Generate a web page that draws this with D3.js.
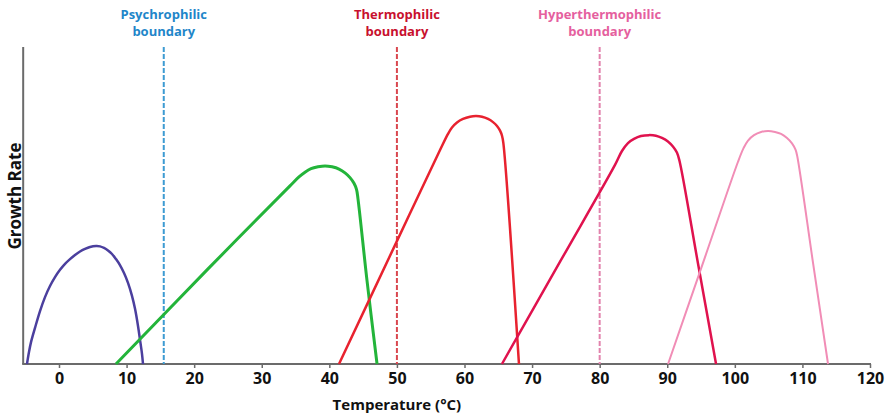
<!DOCTYPE html>
<html>
<head>
<meta charset="utf-8">
<script src="https://cdn.jsdelivr.net/npm/d3@7"></script>
<style>
  body { margin: 0; background: #fff; }
  text { font-family: "Open Sans", sans-serif; font-weight: 700; }
</style>
</head>
<body>
<svg width="892" height="417"></svg>
<script>
// curves: [temperature (°C), growth rate (0-100 of plot height)]
var psychrophile = [[-4.74,0],[-4.44,3.8],[-4.14,6.9],[-3.55,11.4],[-2.81,16.7],[-2.07,21.1],[-1.33,24.6],[-0.59,27.4],[0.15,29.7],[0.89,31.6],[1.63,33.1],[2.37,34.4],[3.11,35.5],[3.85,36.3],[4.59,36.9],[5.48,37.2],[6.07,37.1],[6.66,36.6],[7.25,35.8],[7.84,34.7],[8.43,33.1],[9.02,31.2],[9.62,28.7],[10.21,25.6],[10.8,21.5],[11.25,17.4],[11.69,12.0],[11.99,7.6],[12.28,3.2],[12.43,0]];
var mesophile = [[8.43,0],[22.05,30.0],[34.18,56.2],[35.51,59.0],[36.4,60.5],[37.29,61.6],[38.32,62.2],[39.36,62.5],[40.4,62.2],[41.43,61.5],[42.32,60.3],[43.06,58.8],[43.65,57.0],[44.02,55.1],[44.24,52.1],[45.58,26.2],[47.06,0]];
var thermophile = [[41.43,0],[49.72,37.5],[56.38,67.5],[57.56,72.6],[58.15,74.6],[58.89,76.2],[59.78,77.3],[60.81,78.0],[61.7,78.2],[62.59,78.0],[63.48,77.3],[64.22,76.3],[64.81,75.1],[65.26,73.6],[65.55,72.0],[65.75,69.7],[68.06,0]];
var hyperthermophile = [[65.54,0],[74.12,32.2],[82.27,62.8],[83.3,67.2],[84.19,69.7],[85.08,71.0],[86.11,71.9],[87.3,72.2],[88.33,72.0],[89.22,71.3],[90.1,70.2],[90.84,68.6],[91.43,66.7],[91.8,64.2],[94.55,31.7],[97.22,0]];
var hyperthermophile2 = [[90.12,0],[95.6,33.8],[100.47,63.8],[101.29,68.1],[101.95,70.5],[102.84,72.2],[103.88,73.2],[104.91,73.5],[105.95,73.2],[106.84,72.6],[107.72,71.3],[108.46,69.6],[108.98,67.6],[109.23,65.6],[111.57,31.9],[113.79,0]];

var curveColors = ['#4b3f9e', '#23b43a', '#e8222f', '#e0124e', '#f18db6'];
var curveWidths = [2.5, 3, 2.5, 2.5, 2];

var boundaryTemps = [15.5, 50, 80];
var boundaryNames = ['Psychrophilic', 'Thermophilic', 'Hyperthermophilic'];
var boundaryLineColors = ['#3d9bd2', '#d9474f', '#e283ad'];
var boundaryTextColors = ['#1f86c9', '#c8102e', '#e5609e'];

var xTicks = [0, 10, 20, 30, 40, 50, 60, 70, 80, 90, 100, 110, 120];

var svg = d3.select('svg');

var x = d3.scaleLinear().domain([0, 120]).range([59, 870]);
var y = d3.scaleLinear().domain([0, 100]).range([364, 47]);

// axes
svg.append('line')
    .attr('x1', x(-5.3)).attr('x2', x(-5.3))
    .attr('y1', y(100)).attr('y2', y(0))
    .attr('stroke', '#6b6b6b').attr('stroke-width', 2);

var xAxis = svg.append('g')
    .attr('transform', 'translate(0,' + y(0) + ')')
    .call(d3.axisBottom(x).tickValues(xTicks).tickSize(4).tickPadding(5));
xAxis.select('.domain').remove();
xAxis.append('line')
    .attr('x1', x(-5.3) - 1).attr('x2', x(120) + 1)
    .attr('stroke', '#6b6b6b').attr('stroke-width', 2);
xAxis.selectAll('.tick line').attr('stroke', '#6b6b6b').attr('stroke-width', 1.5);
xAxis.selectAll('.tick text')
    .attr('fill', '#111')
    .style('font-size', '16px')
    .style('font-family', '"Open Sans", sans-serif')
    .style('font-weight', 700);

svg.append('text')
    .attr('x', x(50)).attr('y', 410)
    .attr('text-anchor', 'middle')
    .style('font-size', '15px')
    .attr('fill', '#111')
    .text('Temperature (°C)');

svg.append('text')
    .attr('transform', 'translate(21,' + 196 + ') rotate(-90)')
    .attr('text-anchor', 'middle')
    .style('font-size', '17px')
    .attr('fill', '#111')
    .text('Growth Rate');

// boundaries
boundaryTemps.forEach(function (t, i) {
    svg.append('line')
        .attr('x1', x(t)).attr('x2', x(t))
        .attr('y1', y(100)).attr('y2', y(0))
        .attr('stroke', boundaryLineColors[i])
        .attr('stroke-width', 2)
        .attr('stroke-dasharray', '5,2');
    var lbl = svg.append('text')
        .attr('x', x(t)).attr('text-anchor', 'middle')
        .style('font-size', '13px')
        .attr('fill', boundaryTextColors[i]);
    lbl.append('tspan').attr('x', x(t)).attr('y', 19).text(boundaryNames[i]);
    lbl.append('tspan').attr('x', x(t)).attr('y', 36).text('boundary');
});

// growth curves
var line = d3.line()
    .x(function (d) { return x(d[0]); })
    .y(function (d) { return y(d[1]); })
    .curve(d3.curveCatmullRom.alpha(0.5));

var curves = [psychrophile, mesophile, thermophile, hyperthermophile, hyperthermophile2];
curves.forEach(function (c, i) {
    svg.append('path')
        .attr('d', line(c))
        .attr('fill', 'none')
        .attr('stroke', curveColors[i])
        .attr('stroke-width', curveWidths[i]);
});
</script>
</body>
</html>
